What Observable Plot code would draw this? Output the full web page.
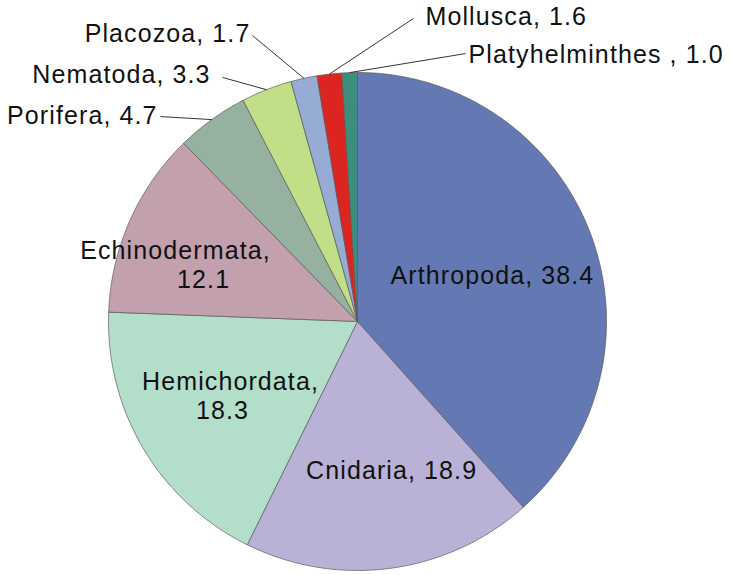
<!DOCTYPE html>
<html>
<head>
<meta charset="utf-8">
<script src="https://cdn.jsdelivr.net/npm/d3@7"></script>
<script src="https://cdn.jsdelivr.net/npm/@observablehq/plot@0.6"></script>
<style>
  html, body { margin: 0; padding: 0; background: #ffffff; }
</style>
</head>
<body>
<div id="chart"></div>
<script>
// ---- data ----
const names = ["Arthropoda", "Cnidaria", "Hemichordata", "Echinodermata", "Porifera", "Nematoda", "Placozoa", "Mollusca", "Platyhelminthes"];
const values = [38.4, 18.9, 18.3, 12.1, 4.7, 3.3, 1.7, 1.6, 1.0];
const labelTexts = ["Arthropoda, 38.4", "Cnidaria, 18.9", "Hemichordata,\n18.3", "Echinodermata,\n12.1", "Porifera, 4.7", "Nematoda, 3.3", "Placozoa, 1.7", "Mollusca, 1.6", "Platyhelminthes , 1.0"];

// ---- style ----
const colors = ["#6479b3", "#b9b1d6", "#b3dfca", "#c2a0ae", "#97b1a0", "#c0df87", "#97acd5", "#dc2520", "#3c8f7d"];

// ---- label layout (in pie-radius units relative to the centre) ----
const labelLayout = [
  {pos: [[0.542, 0.181]], anchor: "middle", leader: null},
  {pos: [[0.137, -0.602]], anchor: "middle", leader: null},
  {pos: [[-0.510, -0.241], [-0.542, -0.361]], anchor: "middle", leader: null},
  {pos: [[-0.731, 0.285], [-0.618, 0.165]], anchor: "middle", leader: null},
  {pos: [[-0.803, 0.827]], anchor: "end", leader: [-0.791, 0.823]},
  {pos: [[-0.590, 0.988]], anchor: "end", leader: [-0.542, 0.980]},
  {pos: [[-0.430, 1.153]], anchor: "end", leader: [-0.422, 1.149]},
  {pos: [[0.273, 1.221]], anchor: "start", leader: [0.225, 1.217]},
  {pos: [[0.446, 1.072]], anchor: "start", leader: [0.434, 1.076]}
];

// ---- geometry from the data ----
const arcs = d3.pie().sort(null).value(d => d)(values);
const slicePoints = [];
arcs.forEach((a, i) => {
  const n = Math.max(2, Math.ceil((a.endAngle - a.startAngle) / (Math.PI / 360)));
  slicePoints.push({name: names[i], x: 0, y: 0});
  for (let k = 0; k <= n; k++) {
    const t = a.startAngle + (a.endAngle - a.startAngle) * k / n;
    slicePoints.push({name: names[i], x: Math.sin(t), y: Math.cos(t)});
  }
  slicePoints.push({name: names[i], x: 0, y: 0});
});

const leaders = [];
arcs.forEach((a, i) => {
  const L = labelLayout[i].leader;
  if (!L) return;
  const m = (a.startAngle + a.endAngle) / 2;
  leaders.push({name: names[i], x1: Math.sin(m), y1: Math.cos(m), x2: L[0], y2: L[1]});
});

const labelRows = labelTexts.flatMap((t, i) =>
  t.split("\n").map((s, j) => ({
    text: s, name: names[i],
    u: labelLayout[i].pos[j][0], v: labelLayout[i].pos[j][1],
    anchor: labelLayout[i].anchor
  }))
);

const textOpts = (anchor) => ({
  filter: d => d.anchor === anchor,
  x: "u", y: "v", text: "text",
  textAnchor: anchor, fontSize: 25, fill: "#111"
});

const chart = Plot.plot({
  width: 732,
  height: 575,
  marginLeft: 108,
  marginRight: 126,
  marginTop: 72,
  marginBottom: 5,
  x: {domain: [-1, 1], axis: null},
  y: {domain: [-1, 1], axis: null},
  color: {domain: names, range: colors},
  style: {fontFamily: "'Liberation Sans', Arial, sans-serif", letterSpacing: "1.1px", background: "#ffffff", overflow: "visible"},
  marks: [
    Plot.line(slicePoints, {x: "x", y: "y", z: "name", fill: "name", stroke: "#5a5a5a", strokeWidth: 0.7, strokeLinejoin: "round", curve: "linear"}),
    Plot.link(leaders, {x1: "x1", y1: "y1", x2: "x2", y2: "y2", stroke: "#333", strokeWidth: 1}),
    Plot.text(labelRows, textOpts("middle")),
    Plot.text(labelRows, textOpts("end")),
    Plot.text(labelRows, textOpts("start"))
  ]
});
document.getElementById("chart").appendChild(chart);
</script>
</body>
</html>
